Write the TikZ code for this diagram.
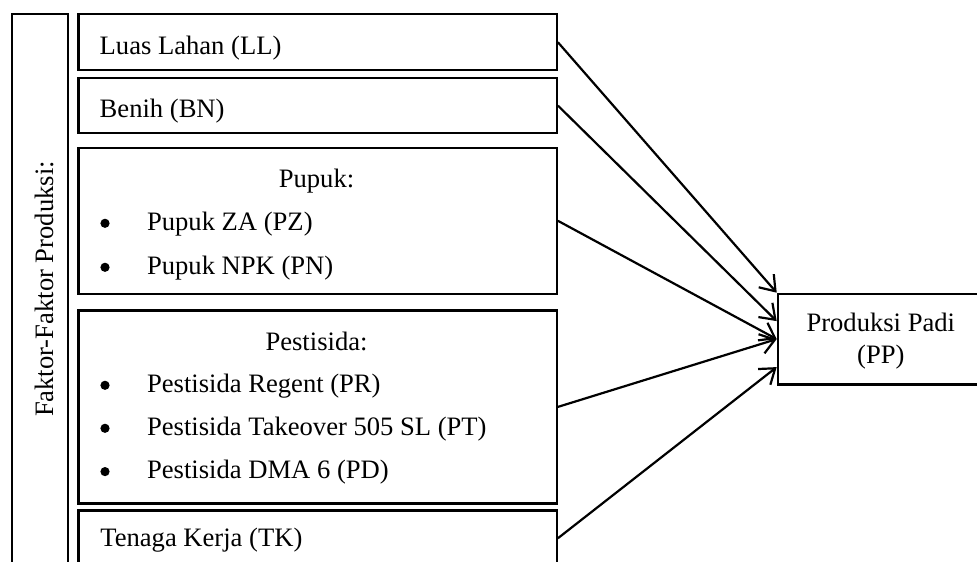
\documentclass[tikz,border=0pt]{standalone}
\usepackage{fontspec}
\setmainfont{Liberation Serif}
\usetikzlibrary{arrows.meta, positioning}

\tikzset{
  kotak/.style={draw=black, line width=1.1pt, rectangle, anchor=north west, inner sep=0pt},
  kotakisi/.style={kotak, minimum width=239.2pt},
  teks/.style={inner sep=0pt, anchor=base west, font=\fontsize{13.3}{16}\selectfont},
  butir/.style={inner sep=0pt, anchor=base, font=\fontsize{13.3}{16}\selectfont},
  titik/.style={circle, fill=black, inner sep=0pt, minimum size=4.6pt},
  panah/.style={line width=1.1pt, -{Straight Barb[length=7pt,width=10pt]}}
}

\begin{document}
\begin{tikzpicture}[x=0.5pt, y=-0.5pt]
  \useasboundingbox (0,0) rectangle (977,561);

  % Kotak luar faktor produksi
  \node[kotak, minimum width=27.85pt, minimum height=276.15pt] (faktor) at (11,12.7) {};
  \node[butir, rotate=90] (tfaktor) at (53.3,289) {Faktor-Faktor Produksi:};

  % Kotak-kotak faktor
  \node[kotakisi, minimum height=27.85pt] (ll) at (77.3,13.3) {};
  \node[teks] (tll) at (99.3,54.3) {Luas Lahan (LL)};

  \node[kotakisi, minimum height=27.8pt] (bn) at (77.3,76.7) {};
  \node[teks] (tbn) at (99.3,117.3) {Benih (BN)};

  \node[kotakisi, minimum height=73pt] (pupuk) at (77.3,146.7) {};
  \node[butir] (tpupuk) at (316.5,187.3) {Pupuk:};
  \node[titik] (b1) at (105,223.3) {};
  \node[teks] (pz) at (146.7,230) {Pupuk ZA (PZ)};
  \node[titik] (b2) at (105,267.3) {};
  \node[teks] (pn) at (146.7,274) {Pupuk NPK (PN)};

  \node[kotakisi, minimum height=96.5pt] (pest) at (77.3,309.3) {};
  \node[butir] (tpest) at (316.5,350) {Pestisida:};
  \node[titik] (b3) at (105,385.3) {};
  \node[teks] (pr) at (146.7,392) {Pestisida Regent (PR)};
  \node[titik] (b4) at (105,428.3) {};
  \node[teks] (pt) at (146.7,435) {Pestisida Takeover 505 SL (PT)};
  \node[titik] (b5) at (105,471.6) {};
  \node[teks] (pd) at (146.7,478.3) {Pestisida DMA 6 (PD)};

  \node[kotakisi, minimum height=27.85pt] (tk) at (77.3,509.3) {};
  \node[teks] (ttk) at (100,546.7) {Tenaga Kerja (TK)};

  % Produksi padi
  \node[kotak, minimum width=104.15pt, minimum height=45.3pt] (pp) at (776.7,292.7) {};
  \node[butir, anchor=center, align=center] (tpp) at (880.8,341) {Produksi Padi\\(PP)};

  % Panah
  \draw[panah] (ll.east) -- (pp.north west);
  \draw[panah] (bn.east) -- ([yshift=9pt]pp.west);
  \draw[panah] (pupuk.east) -- (pp.west);
  \draw[panah] (pest.east) -- (pp.west);
  \draw[panah] (tk.east) -- ([yshift=-14pt]pp.west);
\end{tikzpicture}
\end{document}
